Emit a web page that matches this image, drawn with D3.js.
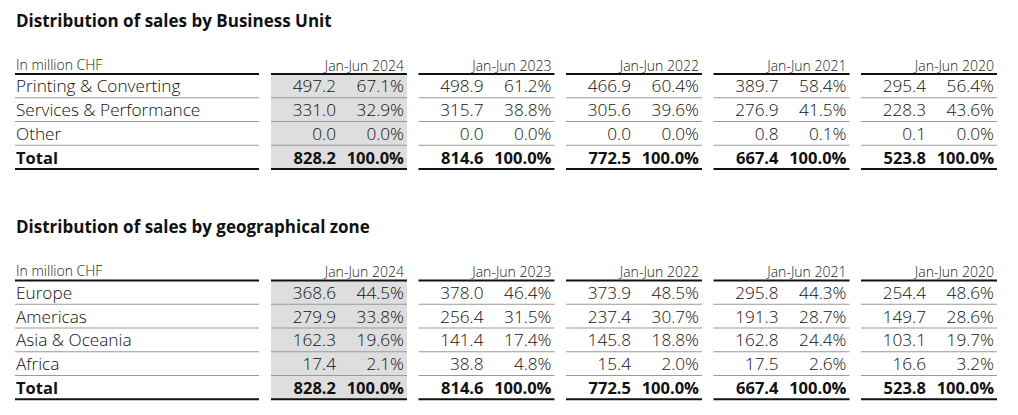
<!DOCTYPE html>
<html>
<head>
<meta charset="utf-8">
<script src="https://cdn.jsdelivr.net/npm/d3@7"></script>
<style>
  body { margin: 0; background: #fff; }
  svg { display: block; font-family: "Open Sans", "Noto Sans", sans-serif; }
</style>
</head>
<body>
<div id="chart"></div>
<script>
const W = 1018, H = 415;

// data
const periods = ['Jan-Jun 2024', 'Jan-Jun 2023', 'Jan-Jun 2022', 'Jan-Jun 2021', 'Jan-Jun 2020'];
const totals = [828.2, 814.6, 772.5, 667.4, 523.8];

const units = ['Printing & Converting', 'Services & Performance', 'Other'];
const unitSales = [
    [497.2, 498.9, 466.9, 389.7, 295.4],
    [331.0, 315.7, 305.6, 276.9, 228.3],
    [0.0, 0.0, 0.0, 0.8, 0.1]
];
const unitShare = [
    [67.1, 61.2, 60.4, 58.4, 56.4],
    [32.9, 38.8, 39.6, 41.5, 43.6],
    [0.0, 0.0, 0.0, 0.1, 0.0]
];

const zones = ['Europe', 'Americas', 'Asia & Oceania', 'Africa'];
const zoneSales = [
    [368.6, 378.0, 373.9, 295.8, 254.4],
    [279.9, 256.4, 237.4, 191.3, 149.7],
    [162.3, 141.4, 145.8, 162.8, 103.1],
    [17.4, 38.8, 15.4, 17.5, 16.6]
];
const zoneShare = [
    [44.5, 46.4, 48.5, 44.3, 48.6],
    [33.8, 31.5, 30.7, 28.7, 28.6],
    [19.6, 17.4, 18.8, 24.4, 19.7],
    [2.1, 4.8, 2.0, 2.6, 3.2]
];

const svg = d3.select('#chart').append('svg')
    .attr('width', W)
    .attr('height', H);

svg.append('rect').attr('width', W).attr('height', H).attr('fill', '#fff');

// one column per period
const x = d3.scaleBand()
    .domain(periods)
    .range([271, 997])
    .paddingInner(0.078);

const LABEL_X0 = 15, LABEL_X1 = 259;
const ROW_H = 23.75;
const num = d3.format('.1f');

function drawTable(titleY, headY, title, labels, sales, share) {
    const g = svg.append('g');
    const rows = labels.concat(['Total']);
    const y = d3.scaleBand()
        .domain(d3.range(rows.length))
        .range([headY, headY + rows.length * ROW_H]);

    g.append('text')
        .attr('x', 16).attr('y', titleY)
        .attr('font-size', 17).attr('font-weight', 700)
        .attr('fill', '#111')
        .text(title);

    g.append('text')
        .attr('x', 16).attr('y', headY - 4.5)
        .attr('font-size', 14).attr('font-weight', 300).attr('fill', '#222')
        .text('In million CHF');

    // grey highlight behind the latest period
    g.append('rect')
        .attr('x', x(periods[0]))
        .attr('y', headY)
        .attr('width', x.bandwidth())
        .attr('height', rows.length * ROW_H)
        .attr('fill', '#dedede');

    g.selectAll('.head')
        .data(periods)
        .join('text')
        .attr('x', d => x(d) + x.bandwidth() - 3)
        .attr('y', headY - 3.5)
        .attr('text-anchor', 'end')
        .attr('font-size', 14).attr('font-weight', 300).attr('fill', '#222')
        .text(d => d);

    const segs = [[LABEL_X0, LABEL_X1]].concat(periods.map(p => [x(p), x(p) + x.bandwidth()]));

    // row separators
    rows.forEach((r, i) => {
        const yy = y(i) + y.bandwidth();
        const last = i === rows.length - 1;
        segs.forEach(s => {
            g.append('line')
                .attr('x1', s[0]).attr('x2', s[1])
                .attr('y1', yy).attr('y2', yy)
                .attr('stroke', last ? '#111' : '#999')
                .attr('stroke-width', last ? 2 : 1);
        });
    });
    segs.forEach(s => {
        g.append('line')
            .attr('x1', s[0]).attr('x2', s[1])
            .attr('y1', headY).attr('y2', headY)
            .attr('stroke', '#111').attr('stroke-width', 2);
    });

    rows.forEach((r, i) => {
        const isTotal = i === rows.length - 1;
        const base = y(i) + y.bandwidth() - 5.5;
        const vals = isTotal ? totals : sales[i];
        const pcts = isTotal ? periods.map(() => 100) : share[i];
        const weight = isTotal ? 700 : 300;
        const size = isTotal ? 16.5 : 17.2;

        g.append('text')
            .attr('x', 16).attr('y', base)
            .attr('font-size', size).attr('font-weight', weight)
            .attr('fill', '#111')
            .text(r);

        periods.forEach((p, j) => {
            g.append('text')
                .attr('x', x(p) + 65).attr('y', base)
                .attr('text-anchor', 'end')
                .attr('font-size', size).attr('font-weight', weight)
                .attr('fill', '#111')
                .text(num(vals[j]));
            g.append('text')
                .attr('x', x(p) + x.bandwidth() - 3).attr('y', base)
                .attr('text-anchor', 'end')
                .attr('font-size', size).attr('font-weight', weight)
                .attr('fill', '#111')
                .text(num(pcts[j]) + '%');
        });
    });
}

drawTable(26.5, 74, 'Distribution of sales by Business Unit', units, unitSales, unitShare);
drawTable(233, 280.5, 'Distribution of sales by geographical zone', zones, zoneSales, zoneShare);
</script>
</body>
</html>
